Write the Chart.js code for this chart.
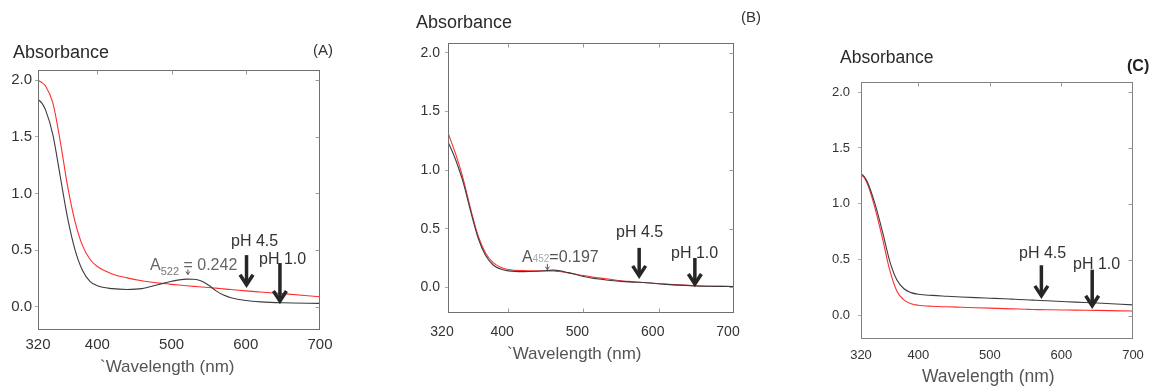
<!DOCTYPE html>
<html>
<head>
<meta charset="utf-8">
<script src="https://cdn.jsdelivr.net/npm/chart.js@4.4.1/dist/chart.umd.min.js"></script>
<style>
  html, body { margin: 0; padding: 0; background: #fff; }
  body { width: 1157px; height: 390px; position: relative; overflow: hidden; }
  canvas { position: absolute; top: 0; }
</style>
</head>
<body>
<canvas id="chartA" width="340" height="390" style="left:0px"></canvas>
<canvas id="chartB" width="380" height="390" style="left:390px"></canvas>
<canvas id="chartC" width="357" height="390" style="left:800px"></canvas>
<script>
// wavelength grid (nm) shared by all spectra
const wavelengths = [320, 325, 330, 340, 350, 360, 370, 380, 390, 400, 420, 440, 460, 480,
  500, 520, 530, 540, 550, 560, 570, 580, 600, 620, 650, 700];

// panel A
const redA = [2.0, 1.98, 1.95, 1.8, 1.46, 1.06, 0.75, 0.54, 0.42, 0.355, 0.29, 0.255, 0.23, 0.212,
  0.198, 0.186, 0.18, 0.175, 0.17, 0.165, 0.158, 0.152, 0.14, 0.13, 0.116, 0.088];
const blackA = [1.83, 1.8, 1.74, 1.52, 1.15, 0.78, 0.5, 0.32, 0.225, 0.185, 0.16, 0.153, 0.16, 0.192,
  0.225, 0.244, 0.243, 0.228, 0.19, 0.14, 0.103, 0.08, 0.055, 0.043, 0.035, 0.03];

// panel B
const redB = [1.32, 1.23, 1.14, 0.93, 0.67, 0.44, 0.29, 0.21, 0.17, 0.152, 0.142, 0.14, 0.138, 0.122,
  0.1, 0.08, 0.072, 0.063, 0.055, 0.05, 0.045, 0.04, 0.03, 0.022, 0.012, 0.006];
const blackB = [1.24, 1.17, 1.09, 0.9, 0.65, 0.42, 0.27, 0.19, 0.155, 0.14, 0.133, 0.137, 0.146, 0.125,
  0.092, 0.07, 0.062, 0.055, 0.05, 0.046, 0.043, 0.04, 0.03, 0.02, 0.011, 0.006];

// panel C
const redC = [1.26, 1.23, 1.16, 0.95, 0.69, 0.41, 0.22, 0.14, 0.105, 0.092, 0.083, 0.078, 0.074, 0.07,
  0.066, 0.062, 0.06, 0.058, 0.056, 0.054, 0.053, 0.052, 0.05, 0.048, 0.046, 0.04];
const blackC = [1.27, 1.24, 1.18, 0.99, 0.75, 0.49, 0.32, 0.24, 0.205, 0.19, 0.18, 0.173, 0.166, 0.16,
  0.155, 0.15, 0.147, 0.144, 0.141, 0.138, 0.135, 0.132, 0.126, 0.12, 0.112, 0.095];

const xTicks = [320, 400, 500, 600, 700];
const yTicks = [0, 0.5, 1.0, 1.5, 2.0];

const FONT = '"Liberation Sans", Arial, sans-serif';

// frame, labels and arrows drawn on top of each panel
const decor = {
  id: 'decor',
  afterDraw(chart, args, o) {
    const { ctx, chartArea: a, scales: { x, y } } = chart;
    const ox = o.left;
    ctx.save();

    // box around the plot
    ctx.strokeStyle = o.frame;
    ctx.lineWidth = 1;
    const L = Math.round(a.left) + 0.5, R = Math.round(a.right) - 0.5;
    const T = Math.round(a.top) + 0.5, B = Math.round(a.bottom) - 0.5;
    ctx.strokeRect(L, T, R - L, B - T);

    // small inside ticks
    ctx.strokeStyle = '#999';
    ctx.beginPath();
    yTicks.forEach(v => {
      const py = Math.round(y.getPixelForValue(v)) + 0.5;
      ctx.moveTo(R, py); ctx.lineTo(R - 4, py);
    });
    [400, 500, 600].forEach(v => {
      const px = Math.round(x.getPixelForValue(v)) + 0.5;
      ctx.moveTo(px, T); ctx.lineTo(px, T + 4);
      if (o.bottomTicks) { ctx.moveTo(px, B); ctx.lineTo(px, B - 4); }
    });
    ctx.stroke();

    // plain texts
    ctx.textBaseline = 'alphabetic';
    ctx.textAlign = 'left';
    o.texts.forEach(t => {
      ctx.font = (t.bold ? 'bold ' : '') + t.size + 'px ' + FONT;
      ctx.fillStyle = t.color;
      ctx.fillText(t.text, t.x - ox, t.y);
    });

    // peak label with subscript
    if (o.peak) {
      const p = o.peak;
      let cx = p.x - ox;
      p.parts.forEach(part => {
        ctx.font = part.size + 'px ' + FONT;
        ctx.fillStyle = part.color;
        ctx.fillText(part.text, cx, p.y + (part.dy || 0));
        cx += ctx.measureText(part.text).width;
      });
      // tiny pointer to the peak
      const px = x.getPixelForValue(p.nm);
      const y0 = y.getPixelForValue(p.from), y1 = y.getPixelForValue(p.to);
      ctx.strokeStyle = '#555';
      ctx.lineWidth = 1;
      ctx.beginPath();
      ctx.moveTo(px, y0); ctx.lineTo(px, y1);
      ctx.moveTo(px - 2, y1 - 3); ctx.lineTo(px, y1); ctx.lineTo(px + 2, y1 - 3);
      ctx.stroke();
    }

    // pH arrows
    ctx.strokeStyle = '#262626';
    ctx.lineWidth = 3.5;
    ctx.lineCap = 'butt';
    ctx.lineJoin = 'miter';
    o.arrows.forEach(ar => {
      const px = x.getPixelForValue(ar.nm);
      const y0 = y.getPixelForValue(ar.from), y1 = y.getPixelForValue(ar.to);
      ctx.beginPath();
      ctx.moveTo(px, y0); ctx.lineTo(px, y1 - 2);
      ctx.stroke();
      ctx.beginPath();
      ctx.moveTo(px - 6.5, y1 - 12); ctx.lineTo(px, y1 - 2); ctx.lineTo(px + 6.5, y1 - 12);
      ctx.stroke();
    });

    ctx.restore();
  }
};

function makeChart(id, red, black, p) {
  const toPts = vals => wavelengths.map((w, i) => ({ x: w, y: vals[i] }));
  return new Chart(document.getElementById(id), {
    type: 'line',
    data: {
      datasets: [
        { data: toPts(black), borderColor: '#3c3c3c', borderWidth: 1.1, pointRadius: 0, cubicInterpolationMode: 'monotone' },
        { data: toPts(red), borderColor: '#ff2e2e', borderWidth: 1.1, pointRadius: 0, cubicInterpolationMode: 'monotone' }
      ]
    },
    options: {
      responsive: false,
      animation: false,
      layout: { padding: { top: p.top, right: p.right, left: 0, bottom: 0 } },
      plugins: { legend: { display: false }, tooltip: { enabled: false }, decor: p },
      scales: {
        x: {
          type: 'linear', min: 320, max: 700,
          afterBuildTicks: s => { s.ticks = xTicks.map(v => ({ value: v })); },
          afterFit: s => { s.height = p.xH; },
          grid: { display: false },
          border: { display: false },
          ticks: { padding: p.xPad, labelOffset: p.xOff || 0, color: '#333', maxRotation: 0,
            font: { size: p.tickSize, family: FONT }, callback: v => String(v) }
        },
        y: {
          min: p.yMin, max: p.yMax,
          afterBuildTicks: s => { s.ticks = yTicks.map(v => ({ value: v })); },
          afterFit: s => { s.width = p.yW; },
          grid: { drawOnChartArea: false, tickLength: 3, color: '#aaa' },
          border: { display: false },
          ticks: { padding: p.yPad, color: '#333', font: { size: p.tickSize, family: FONT },
            callback: v => v.toFixed(1) }
        }
      }
    },
    plugins: [decor]
  });
}

makeChart('chartA', redA, blackA, {
  left: 0, top: 70, right: 20, yW: 38, xH: 60, yMin: -0.205, yMax: 2.09,
  tickSize: 15, xPad: -2, yPad: 3, frame: '#707070',
  texts: [
    { text: 'Absorbance', x: 13, y: 58, size: 18, color: '#2a2a2a' },
    { text: '(A)', x: 313, y: 55, size: 15, color: '#333' },
    { text: '`Wavelength (nm)', x: 100, y: 372, size: 17, color: '#555' },
    { text: 'pH 4.5', x: 231, y: 246, size: 16, color: '#333' },
    { text: 'pH 1.0', x: 259, y: 264, size: 16, color: '#333' }
  ],
  peak: { x: 150, y: 270, nm: 522, from: 0.33, to: 0.285, parts: [
    { text: 'A', size: 16, color: '#666' },
    { text: '522', size: 11, color: '#777', dy: 5 },
    { text: ' = 0.242', size: 16, color: '#666' }
  ] },
  arrows: [
    { nm: 601, from: 0.456, to: 0.177 },
    { nm: 646, from: 0.386, to: 0.033 }
  ]
});

makeChart('chartB', redB, blackB, {
  left: 390, top: 43, right: 36, yW: 58, xH: 77, yMin: -0.22, yMax: 2.085,
  tickSize: 14, xPad: 3, yPad: 5, xOff: -6, frame: '#707070', bottomTicks: true,
  texts: [
    { text: 'Absorbance', x: 416, y: 28, size: 18, color: '#2a2a2a' },
    { text: '(B)', x: 741, y: 22, size: 15, color: '#333' },
    { text: '`Wavelength (nm)', x: 507, y: 359, size: 17, color: '#555' },
    { text: 'pH 4.5', x: 616, y: 237, size: 16, color: '#333' },
    { text: 'pH 1.0', x: 671, y: 258, size: 16, color: '#333' }
  ],
  peak: { x: 522, y: 262, nm: 452, from: 0.2, to: 0.15, parts: [
    { text: 'A', size: 16, color: '#555' },
    { text: '452', size: 10, color: '#aaa' },
    { text: '=0.197', size: 16, color: '#555' }
  ] },
  arrows: [
    { nm: 574, from: 0.336, to: 0.08 },
    { nm: 648, from: 0.25, to: 0.011 }
  ]
});

makeChart('chartC', redC, blackC, {
  left: 800, top: 82, right: 24, yW: 61, xH: 51, yMin: -0.21, yMax: 2.09,
  tickSize: 13, xPad: 1, yPad: 8, frame: '#808080',
  texts: [
    { text: 'Absorbance', x: 840, y: 63, size: 17.5, color: '#2a2a2a' },
    { text: '(C)', x: 1127, y: 71, size: 16, color: '#222', bold: true },
    { text: 'Wavelength (nm)', x: 922, y: 382, size: 17.5, color: '#555' },
    { text: 'pH 4.5', x: 1019, y: 258, size: 16, color: '#333' },
    { text: 'pH 1.0', x: 1073, y: 269, size: 16, color: '#333' }
  ],
  arrows: [
    { nm: 572, from: 0.45, to: 0.158 },
    { nm: 643, from: 0.41, to: 0.07 }
  ]
});
</script>
</body>
</html>
